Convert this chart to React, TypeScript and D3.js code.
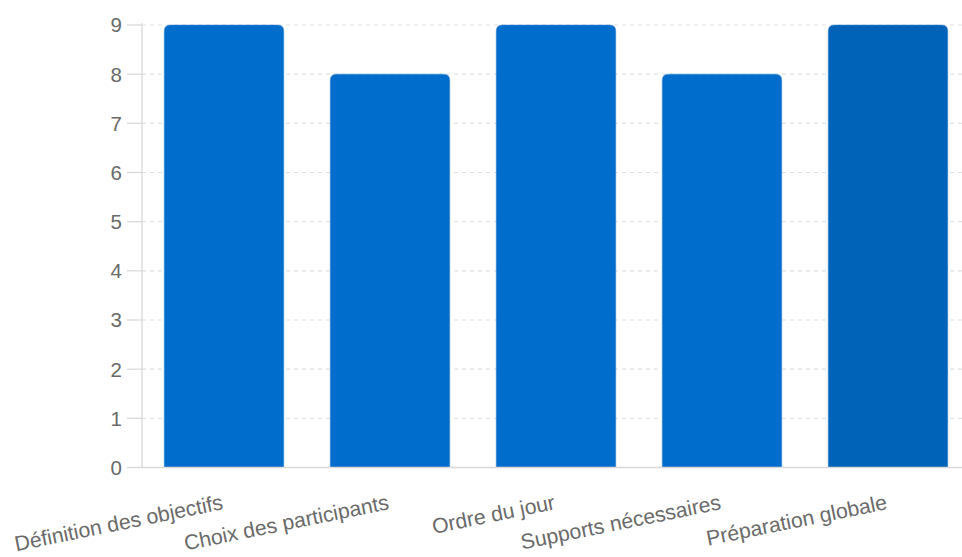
import React from "react";
import * as d3 from "d3";

const categories = [
  "Définition des objectifs",
  "Choix des participants",
  "Ordre du jour",
  "Supports nécessaires",
  "Préparation globale",
];
const values = [9, 8, 9, 8, 9];
const barColors = ["#006CCB", "#006CCB", "#006CCB", "#006CCB", "#0063B7"];
const yTicks = [0, 1, 2, 3, 4, 5, 6, 7, 8, 9];

const W = 962;
const H = 557;
const FONT = "'Liberation Sans', Arial, sans-serif";

function topRoundedRect(x: number, y: number, w: number, h: number, r: number) {
  const rr = Math.min(r, w / 2, h);
  return `M${x},${y + h}V${y + rr}Q${x},${y} ${x + rr},${y}H${x + w - rr}Q${x + w},${y} ${x + w},${y + rr}V${y + h}Z`;
}

export default function App() {
  const x = d3.scaleBand<string>().domain(categories).range([141, 971]).paddingInner(0.28).paddingOuter(0.14);
  const y = d3.scaleLinear().domain([0, 9]).range([467.5, 25]);
  const axisX = 142;
  return (
    <svg
      width={W}
      height={H}
      style={{ position: "absolute", left: 0, top: 0, background: "#fff" }}
      fontFamily={FONT}
    >
      {yTicks.map((t) =>
        t === 0 ? null : (
          <line
            key={"g" + t}
            x1={axisX}
            x2={W}
            y1={y(t)}
            y2={y(t)}
            stroke="#e2e2e2"
            strokeDasharray="4 4"
            strokeWidth={1.2}
          />
        )
      )}
      {categories.map((c, i) => {
        const bx = x(c)!;
        const by = y(values[i]);
        return (
          <path
            key={"b" + i}
            d={topRoundedRect(bx, by, x.bandwidth(), y(0) - by, 6)}
            fill={barColors[i]}
            stroke="#3d8ad6"
            strokeOpacity={0.5}
            strokeWidth={1}
          />
        );
      })}
      <line x1={axisX} x2={axisX} y1={y(9) - 2} y2={y(0)} stroke="#d9d9d9" strokeWidth={1.3} />
      <line x1={axisX} x2={W} y1={y(0)} y2={y(0)} stroke="#d9d9d9" strokeWidth={1.3} />
      {yTicks.map((t) => (
        <g key={"t" + t}>
          <line x1={127} x2={axisX} y1={y(t)} y2={y(t)} stroke="#d9d9d9" strokeWidth={1.3} />
          <text
            x={122}
            y={y(t)}
            dy="0.36em"
            textAnchor="end"
            fontSize={20.5}
            fill="#6a6a6a"
          >
            {t}
          </text>
        </g>
      ))}
      {categories.map((c, i) => {
        const cx = x(c)! + x.bandwidth() / 2;
        const ty = 509;
        return (
          <text
            key={"l" + i}
            x={cx}
            y={ty}
            textAnchor="end"
            fontSize={21.2}
            fill="#6a6a6a"
            transform={`rotate(-11.5, ${cx}, ${ty})`}
          >
            {c}
          </text>
        );
      })}
    </svg>
  );
}
